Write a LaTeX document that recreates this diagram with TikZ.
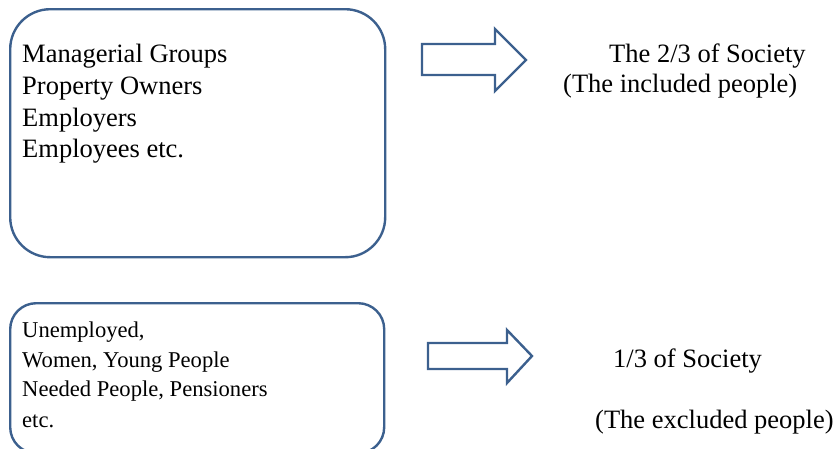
\documentclass[tikz,border=0pt]{standalone}
\usepackage{fontspec}
\setmainfont{Liberation Serif}
\begin{document}
\begin{tikzpicture}[x=1pt,y=-1pt,
  outl/.style={draw=boxblue,line width=2.4pt},
  bigtxt/.style={inner sep=0pt,anchor=base west,font=\fontsize{26.5}{32}\selectfont},
  smalltxt/.style={inner sep=0pt,anchor=base west,font=\fontsize{22.6}{30}\selectfont},
  fatarrow/.style={draw=boxblue,line width=2.4pt,line join=miter}]
\definecolor{boxblue}{RGB}{60,96,142}
\useasboundingbox (0,0) rectangle (838,448);
\clip (0,0) rectangle (838,448);
% top box
\node[outl,rounded corners=40pt,minimum width=375pt,minimum height=248pt,anchor=north west,inner sep=0pt] (topbox) at (9,8) {};
\node[bigtxt] (top1) at (22,62) {Managerial Groups};
\node[bigtxt] (top2) at (22,94) {Property Owners};
\node[bigtxt] (top3) at (22,126) {Employers};
\node[bigtxt] (top4) at (22,157) {Employees etc.};
% bottom box
\node[outl,rounded corners=26pt,minimum width=374pt,minimum height=150pt,anchor=north west,inner sep=0pt] (botbox) at (9,302) {};
\node[smalltxt] (bot1) at (22,337) {Unemployed,};
\node[smalltxt] (bot2) at (22,367) {Women, Young People};
\node[smalltxt] (bot3) at (22,396) {Needed People, Pensioners};
\node[smalltxt] (bot4) at (22,427) {etc.};
% arrows
\draw[fatarrow] (422,44) -- (495,44) -- (495,29) -- (526,60) -- (495,91) -- (495,75) -- (422,75) -- cycle;
\draw[fatarrow] (428,343) -- (507,343) -- (507,330) -- (532,356) -- (507,383) -- (507,369) -- (428,369) -- cycle;
% right texts
\node[bigtxt] (incl1) at (609,62) {The 2/3 of Society};
\node[bigtxt] (incl2) at (563,92) {(The included people)};
\node[bigtxt] (excl1) at (613,367) {1/3 of Society};
\node[bigtxt] (excl2) at (595,428) {(The excluded people)};
\end{tikzpicture}
\end{document}
